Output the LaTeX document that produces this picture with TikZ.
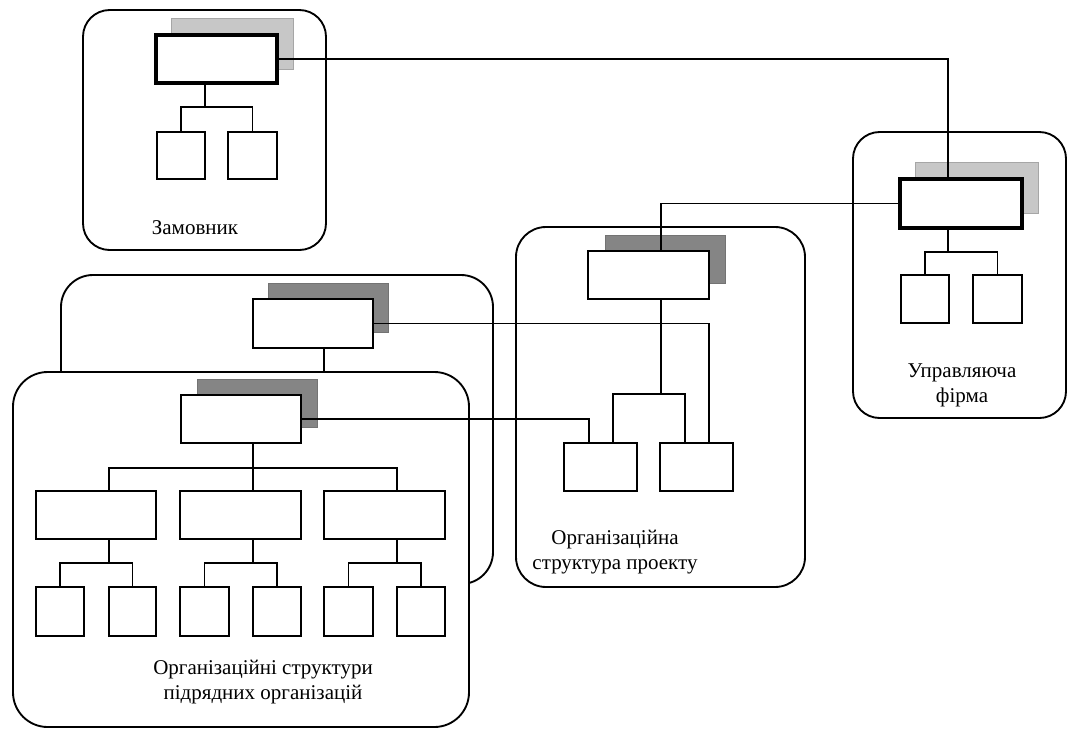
\documentclass[tikz,border=0pt]{standalone}
\usepackage{fontspec}
\setmainfont{Liberation Serif}
\begin{document}
\begin{tikzpicture}[x=0.75pt,y=-0.75pt,
  sz/.style 2 args={minimum width=#1*0.75pt,minimum height=#2*0.75pt},
  outerbox/.style={draw,line width=1.4pt,rounded corners=#1,inner sep=0pt,fill=white},
  shadowlight/.style={fill=black!22,draw=black!35,line width=0.5pt,inner sep=0pt},
  shadowdark/.style={fill=black!48,draw=black!55,line width=0.5pt,inner sep=0pt},
  unit/.style={draw,fill=white,line width=1.3pt,inner sep=0pt},
  mainunit/.style={draw,fill=white,line width=3pt,inner sep=0pt},
  conn/.style={line width=1.2pt},
  label/.style={align=center,inner sep=0pt,font=\fontsize{15.75}{18.75}\selectfont}
]
\useasboundingbox (0,0) rectangle (1068,729);

% --- Замовник
\node[outerbox=20pt,sz={243}{240}] (zo) at (204.5,130) {};
\node[shadowlight,sz={122}{51}] (zs) at (232,43.5) {};
\node[mainunit,sz={121}{48}] (zm) at (216.5,59) {};
\node[unit,sz={48}{47}] (z1) at (181,155.5) {};
\node[unit,sz={49}{47}] (z2) at (252.5,155.5) {};
\node[label] (zt) at (195,228) {Замовник};

% --- Управляюча фірма
\node[outerbox=20pt,sz={213}{286}] (uo) at (959.5,275) {};
\node[shadowlight,sz={123}{51}] (us) at (976.5,187.5) {};
\node[mainunit,sz={122}{49}] (um) at (961,203.5) {};
\node[unit,sz={48}{48}] (u1) at (925,299) {};
\node[unit,sz={49}{48}] (u2) at (997.5,299) {};
\node[label] (ut) at (962,385.5) {Управляюча\\фірма};

% --- Організаційна структура проекту
\node[outerbox=22.5pt,sz={289}{360}] (po) at (660.5,407) {};
\node[shadowdark,sz={120}{48}] (ps) at (665,259) {};
\node[unit,sz={121}{48}] (pm) at (648.5,275) {};
\node[unit,sz={73}{48}] (p1) at (600.5,467) {};
\node[unit,sz={73}{48}] (p2) at (696.5,467) {};
\node[label] (pt) at (615,552) {Організаційна\\структура проекту};

% --- back subcontractor structure
\node[outerbox=24pt,sz={432}{309}] (bo) at (277,429.5) {};
\node[shadowdark,sz={120}{49}] (bs) at (328,307.5) {};
\node[unit,sz={120}{49}] (bm) at (313,323.5) {};

% --- front subcontractor structure
\node[outerbox=26pt,sz={456}{355}] (fo) at (241,549.5) {};
\node[shadowdark,sz={120}{48}] (fs) at (257,403) {};
\node[unit,sz={120}{48}] (fm) at (241,419) {};
\node[unit,sz={120}{48}] (f1) at (96,515) {};
\node[unit,sz={121}{48}] (f2) at (240.5,515) {};
\node[unit,sz={121}{48}] (f3) at (384.5,515) {};
\node[unit,sz={48}{49}] (l1) at (60,611.5) {};
\node[unit,sz={47}{49}] (l2) at (132.5,611.5) {};
\node[unit,sz={49}{49}] (l3) at (204.5,611.5) {};
\node[unit,sz={48}{49}] (l4) at (277,611.5) {};
\node[unit,sz={49}{49}] (l5) at (348.5,611.5) {};
\node[unit,sz={48}{49}] (l6) at (421,611.5) {};
\node[label] (ft) at (263,682) {Організаційні структури\\підрядних організацій};

% --- junction coordinates
\coordinate (zb) at (205,107);
\coordinate (zu) at (948,59);
\coordinate (ub) at (948,252);
\coordinate (pb) at (661,394);
\coordinate (pl) at (613,394);
\coordinate (pr) at (685,394);
\coordinate (bp) at (709,323.5);
\coordinate (fp) at (589,419);
\coordinate (bf) at (324,371);
\coordinate (fb) at (253,468);
\coordinate (fl) at (109,468);
\coordinate (fr) at (397,468);
\coordinate (g1) at (109,563);
\coordinate (g2) at (253,563);
\coordinate (g3) at (397,563);

% --- connectors
\draw[conn] (zm.south -| zb) -- (zb);
\draw[conn] (z1.north) |- (zb) -| (z2.north);
\draw[conn] (zm.east) -- (zu) -- (um.north -| zu);
\draw[conn] (um.south -| ub) -- (ub);
\draw[conn] (u1.north) |- (ub) -| (u2.north);
\draw[conn] (um.west) -| (pm.north -| pb);
\draw[conn] (pm.south -| pb) -- (pb);
\draw[conn] (p1.north -| pl) -- (pl) -- (pr) -- (p2.north -| pr);
\draw[conn] (bm.east) -- (bp) -- (p2.north -| bp);
\draw[conn] (fm.east) -- (fp) -- (p1.north -| fp);
\draw[conn] (bm.south -| bf) -- (bf);
\draw[conn] (fm.south -| fb) -- (fb);
\draw[conn] (f1.north -| fl) -- (fl) -- (fr) -- (f3.north -| fr);
\draw[conn] (fb) -- (f2.north -| fb);
\draw[conn] (f1.south -| g1) -- (g1);
\draw[conn] (l1.north) |- (g1) -| (l2.north);
\draw[conn] (f2.south -| g2) -- (g2);
\draw[conn] (l3.north) |- (g2) -| (l4.north);
\draw[conn] (f3.south -| g3) -- (g3);
\draw[conn] (l5.north) |- (g3) -| (l6.north);
\end{tikzpicture}
\end{document}
